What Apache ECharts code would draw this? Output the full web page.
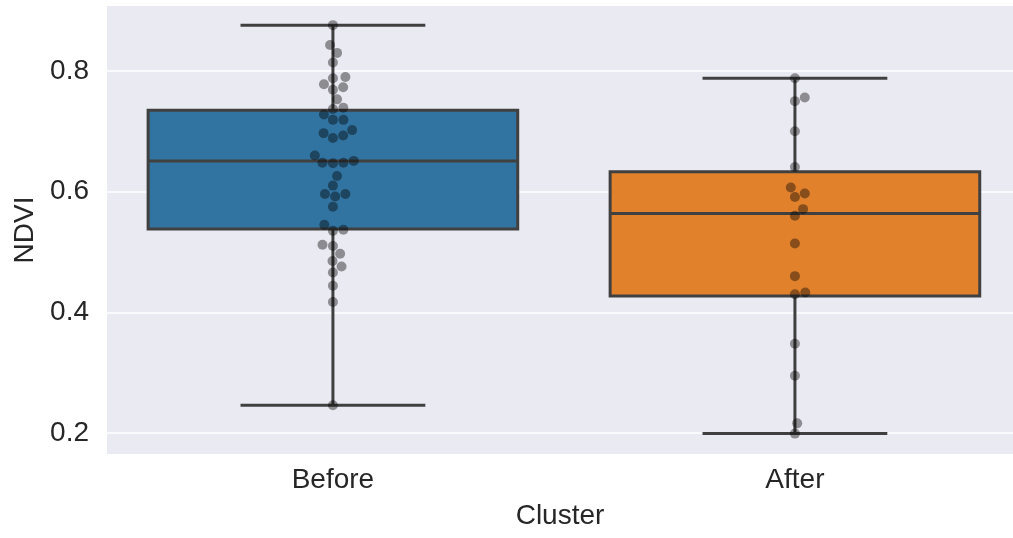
<!DOCTYPE html>
<html>
<head>
<meta charset="utf-8">
<script src="https://cdn.jsdelivr.net/npm/echarts@6/dist/echarts.min.js"></script>
<style>
html,body{margin:0;padding:0;background:#fff;}
#chart{width:1013px;height:538px;}
</style>
</head>
<body>
<div id="chart"></div>
<script>
// ---- data ----
const categories = ['Before', 'After'];
// box stats: [lower whisker, Q1, median, Q3, upper whisker]
const boxBefore = [0.246, 0.538, 0.651, 0.735, 0.876];
const boxAfter  = [0.199, 0.427, 0.564, 0.633, 0.788];
// individual observations
const pointsBefore = [0.876, 0.843, 0.830, 0.814, 0.790, 0.788, 0.778, 0.773, 0.769, 0.753,
  0.739, 0.737, 0.728, 0.719, 0.719, 0.702, 0.697, 0.693, 0.689, 0.660, 0.651, 0.648, 0.647,
  0.648, 0.626, 0.610, 0.596, 0.592, 0.596, 0.575, 0.545, 0.537, 0.535, 0.512, 0.510, 0.497,
  0.485, 0.476, 0.466, 0.444, 0.417, 0.246];
const pointsAfter = [0.788, 0.756, 0.750, 0.700, 0.641, 0.607, 0.597, 0.591, 0.571, 0.560,
  0.514, 0.460, 0.433, 0.430, 0.348, 0.295, 0.216, 0.199];
const yTicks = [0.2, 0.4, 0.6, 0.8];

const boxColors = ['#3274a1', '#e1812c'];
const edge = '#404040';
const BOX_HALF = 0.4, CAP_HALF = 0.2;
const DOT = 10;

const chart = echarts.init(document.getElementById('chart'), null, {renderer: 'canvas'});
const font = '"Liberation Sans", Arial, sans-serif';

const boxData = [[0].concat(boxBefore), [1].concat(boxAfter)];

const option = {
  animation: false,
  backgroundColor: '#fff',
  grid: {left: 107, right: 0, top: 6, bottom: 84, show: true, backgroundColor: '#eaeaf2', borderWidth: 0},
  xAxis: {
    type: 'value', min: -0.489, max: 1.472,
    axisLine: {show: false}, axisTick: {show: false, customValues: [0, 1]}, splitLine: {show: false},
    axisLabel: {customValues: [0, 1], formatter: v => categories[Math.round(v)],
      fontFamily: font, fontSize: 28, color: '#262626', margin: 12},
    name: 'Cluster', nameLocation: 'middle', nameGap: 48,
    nameTextStyle: {fontFamily: font, fontSize: 28, color: '#262626'}
  },
  yAxis: {
    type: 'value', min: 0.1652, max: 0.9077,
    axisLine: {show: false},
    axisTick: {show: false, customValues: yTicks},
    axisLabel: {customValues: yTicks, formatter: v => v.toFixed(1),
      fontFamily: font, fontSize: 28, color: '#262626', margin: 18},
    splitLine: {show: true, lineStyle: {color: '#ffffff', width: 1.5}},
    name: 'NDVI', nameLocation: 'middle', nameGap: 68, nameRotate: 90,
    nameTextStyle: {fontFamily: font, fontSize: 28, color: '#262626'}
  },
  series: [
    {
      type: 'custom',
      data: boxData,
      z: 2,
      renderItem: function (params, api) {
        const x = api.value(0);
        const p = i => api.coord([x, api.value(i)]);
        const lo = p(1), q1 = p(2), med = p(3), q3 = p(4), hi = p(5);
        const l = api.coord([x - BOX_HALF, api.value(3)])[0];
        const r = api.coord([x + BOX_HALF, api.value(3)])[0];
        const cl = api.coord([x - CAP_HALF, api.value(3)])[0];
        const cr = api.coord([x + CAP_HALF, api.value(3)])[0];
        const cx = lo[0];
        const ls = {stroke: edge, lineWidth: 3};
        return {
          type: 'group',
          children: [
            {type: 'line', shape: {x1: cx, y1: q3[1], x2: cx, y2: hi[1]}, style: ls},
            {type: 'line', shape: {x1: cx, y1: q1[1], x2: cx, y2: lo[1]}, style: ls},
            {type: 'line', shape: {x1: cl, y1: hi[1], x2: cr, y2: hi[1]}, style: ls},
            {type: 'line', shape: {x1: cl, y1: lo[1], x2: cr, y2: lo[1]}, style: ls},
            {type: 'rect', shape: {x: l, y: q3[1], width: r - l, height: q1[1] - q3[1]},
              style: {fill: boxColors[params.dataIndex], stroke: edge, lineWidth: 3}},
            {type: 'line', shape: {x1: l, y1: med[1], x2: r, y2: med[1]}, style: ls}
          ]
        };
      }
    },
    {
      type: 'scatter', z: 5, symbolSize: DOT, data: [],
      itemStyle: {color: 'rgba(0,0,0,0.5)'}
    }
  ]
};
chart.setOption(option);

// beeswarm layout computed from the chart's own scales
function swarm(values, catIndex) {
  const px0 = chart.convertToPixel({xAxisIndex: 0}, 0);
  const px1 = chart.convertToPixel({xAxisIndex: 0}, 1);
  const pxPerUnit = px1 - px0;
  const d = DOT + 0.5;
  const pts = values.map(v => ({v: v, y: chart.convertToPixel({yAxisIndex: 0}, v)}));
  pts.sort((a, b) => b.y - a.y);
  const placed = [];
  pts.forEach(pt => {
    const cands = [0];
    placed.forEach(q => {
      const dy = Math.abs(q.y - pt.y);
      if (dy < d) {
        const dx = Math.sqrt(d * d - dy * dy);
        cands.push(q.x + dx, q.x - dx);
      }
    });
    cands.sort((a, b) => Math.abs(a) - Math.abs(b));
    let chosen = 0;
    for (const c of cands) {
      let ok = true;
      for (const q of placed) {
        const dx = q.x - c, dy = q.y - pt.y;
        if (dx * dx + dy * dy < d * d - 0.01) { ok = false; break; }
      }
      if (ok) { chosen = c; break; }
    }
    pt.x = chosen;
    placed.push(pt);
  });
  return placed.map(pt => [catIndex + pt.x / pxPerUnit, pt.v]);
}

chart.setOption({series: [{}, {data: swarm(pointsBefore, 0).concat(swarm(pointsAfter, 1))}]});
</script>
</body>
</html>
